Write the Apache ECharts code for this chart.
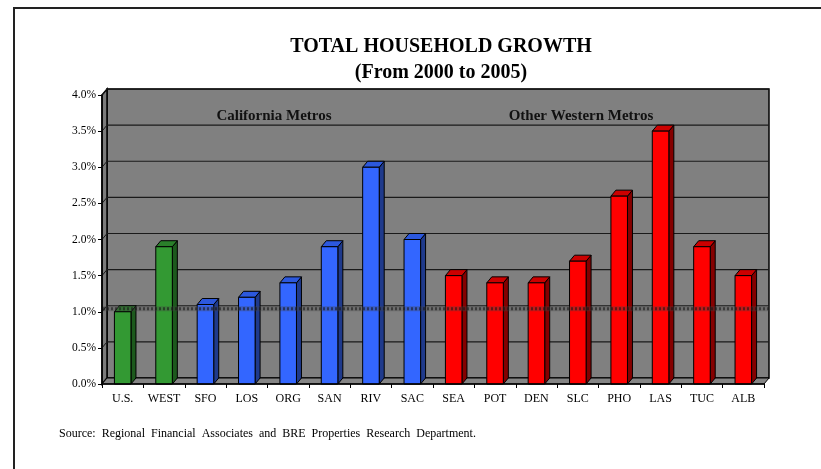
<!DOCTYPE html>
<html>
<head>
<meta charset="utf-8">
<title>Total Household Growth</title>
<script src="https://cdn.jsdelivr.net/npm/echarts@6/dist/echarts.min.js"></script>
<style>
  html, body { margin: 0; padding: 0; background: #fff; }
  #chart { width: 821px; height: 469px; }
</style>
</head>
<body>
<div id="chart"></div>
<script>
// Household growth, 2000 to 2005 (percent)
const categories = ['U.S.', 'WEST', 'SFO', 'LOS', 'ORG', 'SAN', 'RIV', 'SAC',
                    'SEA', 'POT', 'DEN', 'SLC', 'PHO', 'LAS', 'TUC', 'ALB'];
const growth = [1.0, 1.9, 1.1, 1.2, 1.4, 1.9, 3.0, 2.0,
                1.5, 1.4, 1.4, 1.7, 2.6, 3.5, 1.9, 1.5];
const regions = ['benchmark', 'benchmark',
                 'california', 'california', 'california', 'california', 'california', 'california',
                 'western', 'western', 'western', 'western', 'western', 'western', 'western', 'western'];
// U.S. growth level drawn as a reference line across the wall
const referenceLevel = 1.0;
// value axis ticks
const yMin = 0, yMax = 4, yStep = 0.5;

// face colours per region: front, side, top
const palette = {
  benchmark:  { front: '#339933', side: '#1d5a1d', top: '#2a7f2a' },
  california: { front: '#3366ff', side: '#1f3a8c', top: '#2c58dd' },
  western:    { front: '#ff0000', side: '#850000', top: '#cc0000' }
};

// 3-D depth offset of the box, in pixels
const DX = 5, DY = -6;
const SERIF = '"Liberation Serif", "Times New Roman", serif';

const yTicks = [];
for (let v = yMin; v <= yMax + 1e-9; v += yStep) yTicks.push(+v.toFixed(2));

const chart = echarts.init(document.getElementById('chart'), null, { renderer: 'canvas' });

// back wall, left wall, floor and wall gridlines
function renderFrame(params, api) {
  const cs = params.coordSys;
  const left = cs.x, right = cs.x + cs.width;
  const top = cs.y, bottom = cs.y + cs.height;
  const children = [];
  children.push({
    type: 'rect',
    shape: { x: left + DX, y: top + DY, width: cs.width, height: cs.height },
    style: { fill: '#808080', stroke: '#000', lineWidth: 1.5 }
  });
  children.push({
    type: 'polygon',
    shape: { points: [[left, top], [left + DX, top + DY], [left + DX, bottom + DY], [left, bottom]] },
    style: { fill: '#7b7b7b', stroke: '#000', lineWidth: 1.5 }
  });
  yTicks.forEach(function (v) {
    if (v === yMin) return;
    const yf = api.coord([0, v])[1];
    children.push({
      type: 'line',
      shape: { x1: left + DX, y1: yf + DY, x2: right + DX, y2: yf + DY },
      style: { stroke: '#1a1a1a', lineWidth: 1.2 }
    });
    children.push({
      type: 'line',
      shape: { x1: left, y1: yf, x2: left + DX, y2: yf + DY },
      style: { stroke: '#1a1a1a', lineWidth: 1 }
    });
  });
  children.push({
    type: 'polygon',
    shape: { points: [[left, bottom], [left + DX, bottom + DY], [right + DX, bottom + DY], [right, bottom]] },
    style: { fill: '#858585', stroke: '#000', lineWidth: 1 }
  });
  return { type: 'group', children: children };
}

// one 3-D column: front face, side face and top cap
function renderColumn(params, api) {
  const i = api.value(0), v = api.value(1);
  const base = api.coord([i, 0]);
  const head = api.coord([i, v]);
  const band = api.size([1, 0])[0];
  const w = band * 0.4;
  const x1 = base[0] - w / 2, x2 = base[0] + w / 2;
  const yT = head[1], yB = base[1];
  const c = palette[regions[params.dataIndex]];
  const edge = { stroke: '#000', lineWidth: 1 };
  return {
    type: 'group',
    children: [
      {
        type: 'polygon',
        shape: { points: [[x2, yT], [x2 + DX, yT + DY], [x2 + DX, yB + DY], [x2, yB]] },
        style: Object.assign({ fill: c.side }, edge)
      },
      {
        type: 'polygon',
        shape: { points: [[x1, yT], [x1 + DX, yT + DY], [x2 + DX, yT + DY], [x2, yT]] },
        style: Object.assign({ fill: c.top }, edge)
      },
      {
        type: 'rect',
        shape: { x: x1, y: yT, width: w, height: yB - yT },
        style: Object.assign({ fill: c.front }, edge)
      }
    ]
  };
}

// dotted reference band at the U.S. level, laid over the columns
function renderReference(params, api) {
  const cs = params.coordSys;
  const y = api.coord([0, api.value(1)])[1] + DY / 2;
  const x1 = cs.x + 1, x2 = cs.x + cs.width + DX + 1;
  return {
    type: 'group',
    children: [
      { type: 'line', shape: { x1: x1, y1: y, x2: x2, y2: y },
        style: { stroke: 'rgba(70,70,70,0.35)', lineWidth: 5 } },
      { type: 'line', shape: { x1: x1, y1: y, x2: x2, y2: y },
        style: { stroke: 'rgba(20,20,20,0.55)', lineWidth: 3, lineDash: [2, 2] } }
    ]
  };
}

const option = {
  animation: false,
  backgroundColor: '#ffffff',
  grid: { left: 102, right: 57, top: 95, bottom: 85 },
  xAxis: {
    type: 'category',
    data: categories,
    z: 3,
    axisLine: { show: true, lineStyle: { color: '#000', width: 1.5 } },
    axisTick: { show: true, length: 4, lineStyle: { color: '#000' } },
    axisLabel: { color: '#000', fontSize: 12, fontFamily: SERIF, margin: 9, interval: 0 },
    splitLine: { show: false }
  },
  yAxis: {
    type: 'value',
    min: yMin, max: yMax, interval: yStep,
    z: 3,
    axisLine: { show: true, lineStyle: { color: '#000', width: 1.5 } },
    axisTick: { show: true, length: 4, lineStyle: { color: '#000' } },
    axisLabel: {
      color: '#000', fontSize: 11.5, fontFamily: SERIF, margin: 6,
      formatter: function (v) { return v.toFixed(1) + '%'; }
    },
    splitLine: { show: false }
  },
  series: [
    {
      type: 'custom', name: 'frame', z: 1, silent: true, clip: false,
      renderItem: renderFrame,
      data: [[0, 0]]
    },
    {
      type: 'custom', name: 'Household growth', z: 2, clip: false,
      renderItem: renderColumn,
      encode: { x: 0, y: 1 },
      data: growth.map(function (v, i) { return [i, v]; })
    },
    {
      type: 'custom', name: 'U.S. level', z: 4, silent: true, clip: false,
      renderItem: renderReference,
      data: [[0, referenceLevel]]
    }
  ],
  graphic: [
    {
      type: 'rect', silent: true, z: -1,
      shape: { x: 14, y: 8, width: 900, height: 600 },
      style: { fill: 'none', stroke: '#222', lineWidth: 2 }
    },
    {
      type: 'text', x: 441, y: 47,
      style: { text: 'TOTAL HOUSEHOLD GROWTH', fill: '#000', font: 'bold 20px ' + SERIF,
               align: 'center', verticalAlign: 'middle' }
    },
    {
      type: 'text', x: 441, y: 73,
      style: { text: '(From 2000 to 2005)', fill: '#000', font: 'bold 20px ' + SERIF,
               align: 'center', verticalAlign: 'middle' }
    },
    {
      type: 'text', x: 274, y: 116, z: 10,
      style: { text: 'California Metros', fill: '#111', font: 'bold 15px ' + SERIF,
               align: 'center', verticalAlign: 'middle' }
    },
    {
      type: 'text', x: 581, y: 116, z: 10,
      style: { text: 'Other Western Metros', fill: '#111', font: 'bold 15px ' + SERIF,
               align: 'center', verticalAlign: 'middle' }
    },
    {
      type: 'text', x: 59, y: 434,
      style: { text: 'Source:  Regional  Financial  Associates  and  BRE  Properties  Research  Department.',
               fill: '#000', font: '12px ' + SERIF, align: 'left', verticalAlign: 'middle' }
    }
  ]
};

chart.setOption(option);
</script>
</body>
</html>
